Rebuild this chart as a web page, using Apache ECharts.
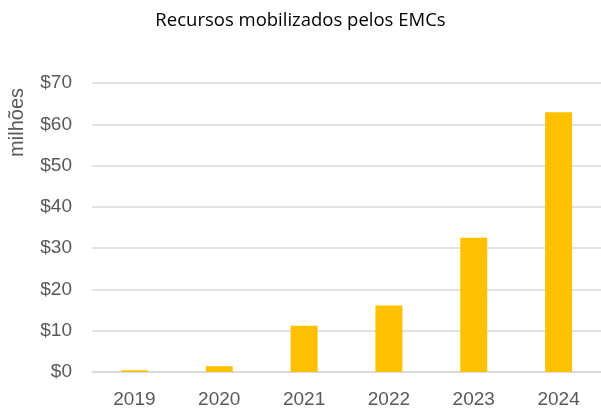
<!DOCTYPE html>
<html>
<head>
    <meta charset="utf-8">
    <script src="https://cdn.jsdelivr.net/npm/echarts@6/dist/echarts.min.js"></script>
    <style>
        html, body { margin: 0; padding: 0; background: #fff; }
    </style>
</head>
<body>
<div id="main" style="width:601px;height:412px;"></div>
<script type="text/javascript">
    // dados (milhões)
    var anos = ['2019', '2020', '2021', '2022', '2023', '2024'];
    var valores = [0.4, 1.4, 11.2, 16.1, 32.5, 62.9];
    var yTicks = [0, 10, 20, 30, 40, 50, 60, 70];

    var myChart = echarts.init(document.getElementById('main'));

    var option = {
        animation: false,
        title: {
            text: 'Recursos mobilizados pelos EMCs',
            left: 'center',
            top: 6,
            textStyle: {
                fontFamily: 'Open Sans',
                fontWeight: 'normal',
                fontSize: 18.5,
                color: '#000'
            }
        },
        // titulo do eixo y (rodado)
        graphic: [{
            type: 'text',
            left: 7,
            top: 88,
            rotation: Math.PI / 2,
            style: {
                text: 'milhões',
                fill: '#595959',
                font: '20px "Liberation Sans"'
            }
        }],
        grid: {
            left: 92,
            right: 0,
            top: 83,
            bottom: 40
        },
        xAxis: {
            type: 'category',
            data: anos,
            axisLine: { lineStyle: { color: '#d9d9d9', width: 1.5 } },
            axisTick: { show: false },
            axisLabel: {
                color: '#595959',
                fontFamily: 'Liberation Sans',
                fontSize: 19,
                margin: 18
            }
        },
        yAxis: {
            type: 'value',
            min: yTicks[0],
            max: yTicks[yTicks.length - 1],
            interval: 10,
            axisLabel: {
                color: '#595959',
                fontFamily: 'Liberation Sans',
                fontSize: 19,
                margin: 20,
                formatter: '${value}'
            },
            splitLine: { lineStyle: { color: '#d9d9d9', width: 1.5 } }
        },
        series: [{
            name: 'Recursos',
            type: 'bar',
            data: valores,
            barWidth: 27,
            itemStyle: { color: '#FFC000' }
        }]
    };
    myChart.setOption(option);
</script>
</body>
</html>
